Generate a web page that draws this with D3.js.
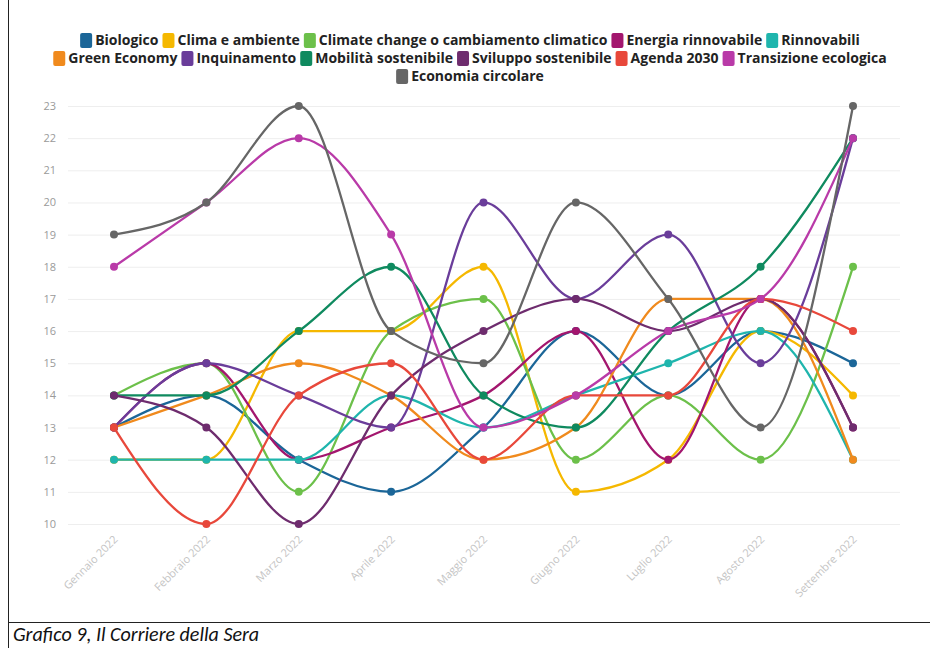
<!DOCTYPE html>
<html>
<head>
<meta charset="utf-8">
<script src="https://cdn.jsdelivr.net/npm/d3@7"></script>
<style>
  body { margin: 0; background: #fff; }
  svg { display: block; }
</style>
</head>
<body>
<svg id="chart" width="930" height="648"></svg>
<script>
// months on the x axis
var months = ["Gennaio 2022", "Febbraio 2022", "Marzo 2022", "Aprile 2022", "Maggio 2022",
  "Giugno 2022", "Luglio 2022", "Agosto 2022", "Settembre 2022"];

var seriesNames = ["Biologico", "Clima e ambiente", "Climate change o cambiamento climatico",
  "Energia rinnovabile", "Rinnovabili", "Green Economy", "Inquinamento", "Mobilità sostenibile",
  "Sviluppo sostenibile", "Agenda 2030", "Transizione ecologica", "Economia circolare"];

var seriesColors = ["#1b6698", "#f5b800", "#6cc04a", "#a3166e", "#1fb5ad", "#f08a1d",
  "#6a3d9a", "#0f8a5f", "#6e2c6e", "#e8483b", "#b93aa8", "#666666"];

// values
var biologico    = [13, 14, 12, 11, 13, 16, 14, 16, 15];
var clima        = [12, 12, 16, 16, 18, 11, 12, 16, 14];
var climateChange= [14, 15, 11, 16, 17, 12, 14, 12, 18];
var energia      = [13, 15, 12, 13, 14, 16, 12, 17, 13];
var rinnovabili  = [12, 12, 12, 14, 13, 14, 15, 16, 12];
var greenEconomy = [13, 14, 15, 14, 12, 13, 17, 17, 12];
var inquinamento = [13, 15, 14, 13, 20, 17, 19, 15, 22];
var mobilita     = [14, 14, 16, 18, 14, 13, 16, 18, 22];
var sviluppo     = [14, 13, 10, 14, 16, 17, 16, 17, 13];
var agenda       = [13, 10, 14, 15, 12, 14, 14, 17, 16];
var transizione  = [18, 20, 22, 19, 13, 14, 16, 17, 22];
var economia     = [19, 20, 23, 16, 15, 20, 17, 13, 23];

var yTicks = d3.range(10, 24);
var legendRows = [[0, 1, 2, 3, 4], [5, 6, 7, 8, 9, 10], [11]];

var allValues = [biologico, clima, climateChange, energia, rinnovabili, greenEconomy,
  inquinamento, mobilita, sviluppo, agenda, transizione, economia];

var series = seriesNames.map(function(name, i) {
  return {name: name, color: seriesColors[i], values: allValues[i]};
});

var svg = d3.select("#chart");

var x = d3.scalePoint().domain(months).range([114, 853]);
var y = d3.scaleLinear().domain([10, 23]).range([524, 106]);

// frame + caption
svg.append("line").attr("x1", 8.5).attr("x2", 8.5).attr("y1", 0).attr("y2", 648)
  .attr("stroke", "#222").attr("stroke-width", 1);
svg.append("line").attr("x1", 8).attr("x2", 930).attr("y1", 622.5).attr("y2", 622.5)
  .attr("stroke", "#222").attr("stroke-width", 1);
svg.append("text").attr("x", 13).attr("y", 641)
  .style("font-family", "Carlito, Calibri, 'Liberation Sans', sans-serif")
  .style("font-style", "italic").style("font-size", "20px").attr("fill", "#111")
  .text("Grafico 9, Il Corriere della Sera");

// y axis with gridlines
var yAxis = d3.axisLeft(y).tickValues(yTicks).tickSize(-(900 - 68)).tickPadding(12);
var gy = svg.append("g").attr("transform", "translate(68,0)").call(yAxis);
gy.select(".domain").remove();
gy.selectAll(".tick line").attr("stroke", "#eeeeee");
gy.selectAll(".tick text").attr("fill", "#9a9a9a")
  .style("font-family", "'Open Sans', sans-serif").style("font-size", "11px");

// x axis
var xAxis = d3.axisBottom(x).tickSize(0).tickPadding(0);
var gx = svg.append("g").attr("transform", "translate(0,530)").call(xAxis);
gx.select(".domain").remove();
gx.selectAll(".tick text")
  .attr("fill", "#c4c4c4")
  .style("font-family", "'Open Sans', sans-serif").style("font-size", "11px")
  .attr("text-anchor", "end")
  .attr("dy", "0")
  .attr("transform", "translate(4,10) rotate(-45)");

// lines
var line = d3.line()
  .x(function(d, i) { return x(months[i]); })
  .y(function(d) { return y(d); })
  .curve(d3.curveMonotoneX);

var g = svg.append("g");
series.forEach(function(s) {
  g.append("path")
    .attr("d", line(s.values))
    .attr("fill", "none")
    .attr("stroke", s.color)
    .attr("stroke-width", 2.3);
  g.selectAll(null)
    .data(s.values)
    .enter()
    .append("circle")
    .attr("cx", function(d, i) { return x(months[i]); })
    .attr("cy", function(d) { return y(d); })
    .attr("r", 4)
    .attr("fill", s.color);
});

// legend
var legend = svg.append("g");
var rowY = [45, 63, 81];
legendRows.forEach(function(row, r) {
  var rg = legend.append("g");
  var cx = 0;
  row.forEach(function(idx) {
    var item = rg.append("g").attr("transform", "translate(" + cx + ",0)");
    item.append("rect").attr("x", 0).attr("y", -12).attr("width", 12).attr("height", 15)
      .attr("rx", 2).attr("fill", seriesColors[idx]);
    var t = item.append("text").attr("x", 15).attr("y", 0)
      .style("font-family", "'Open Sans', sans-serif").style("font-weight", "700")
      .style("font-size", "14px").attr("fill", "#222")
      .text(seriesNames[idx]);
    cx += 15 + t.node().getComputedTextLength() + 4;
  });
  var w = cx - 4;
  rg.attr("transform", "translate(" + (470 - w / 2) + "," + rowY[r] + ")");
});
</script>
</body>
</html>
